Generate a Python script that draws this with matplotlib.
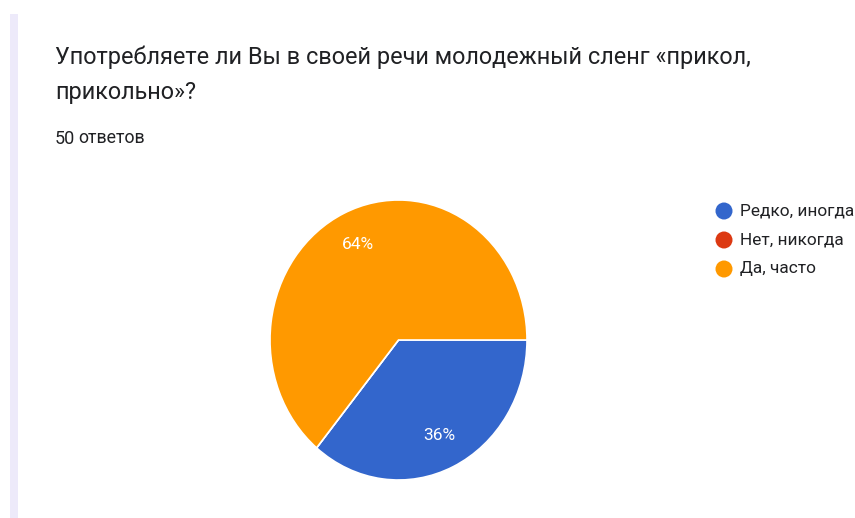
import numpy as np
import matplotlib.pyplot as plt
from matplotlib.patches import Rectangle, Ellipse

# data
labels = ['Редко, иногда', 'Нет, никогда', 'Да, часто']
values = [36, 0, 64]
colors = ['#3366cc', '#dc3912', '#ff9900']
title_lines = ['Употребляете ли Вы в своей речи молодежный сленг «прикол,', 'прикольно»?']
n_answers = '50'

plt.rcParams['font.family'] = ['Roboto', 'DejaVu Sans']

W, H = 855, 518
fig = plt.figure(figsize=(W / 100, H / 100), dpi=100)
fig.patch.set_facecolor('white')

# left lavender strip
fig.patches.append(Rectangle((10 / W, 0), 8 / W, (H - 14) / H, transform=fig.transFigure,
                             facecolor='#edeafa', edgecolor='none'))

# title and counter
fig.text(55 / W, 1 - 64 / H, title_lines[0], fontsize=16.9, color='#202124', va='baseline')
fig.text(55 / W, 1 - 99 / H, title_lines[1], fontsize=16.9, color='#202124', va='baseline')
fig.text(55 / W, 1 - 144 / H, n_answers, fontsize=13, color='#202124', va='baseline')
fig.text(78 / W, 1 - 143 / H, 'ответов', fontsize=12.8, color='#202124', va='baseline')

# pie
ax = fig.add_axes([270 / W, 38 / H, 257 / W, 280 / H])
wedges, texts = ax.pie(values, colors=colors, startangle=0, counterclock=False,
                       wedgeprops=dict(edgecolor='white', linewidth=1.2))
ax.set_aspect('auto')
ax.set_xlim(-1, 1)
ax.set_ylim(-1, 1)

# percentage labels
for w, v in zip(wedges, values):
    if v == 0:
        continue
    ang = np.deg2rad((w.theta1 + w.theta2) / 2)
    r = 0.75
    ax.text(r * np.cos(ang), r * np.sin(ang), f'{v}%', color='white', fontsize=12.5,
            ha='center', va='center')

# legend
for i, (lab, c) in enumerate(zip(labels, colors)):
    y = 1 - (211 + 29 * i) / H
    fig.patches.append(Ellipse((724 / W, y), 17 / W, 17 / H, transform=fig.transFigure,
                               facecolor=c, edgecolor='none'))
    fig.text(740 / W, y, lab, fontsize=12.4, color='#202124', va='center')

fig.savefig('out.png', dpi=100)
